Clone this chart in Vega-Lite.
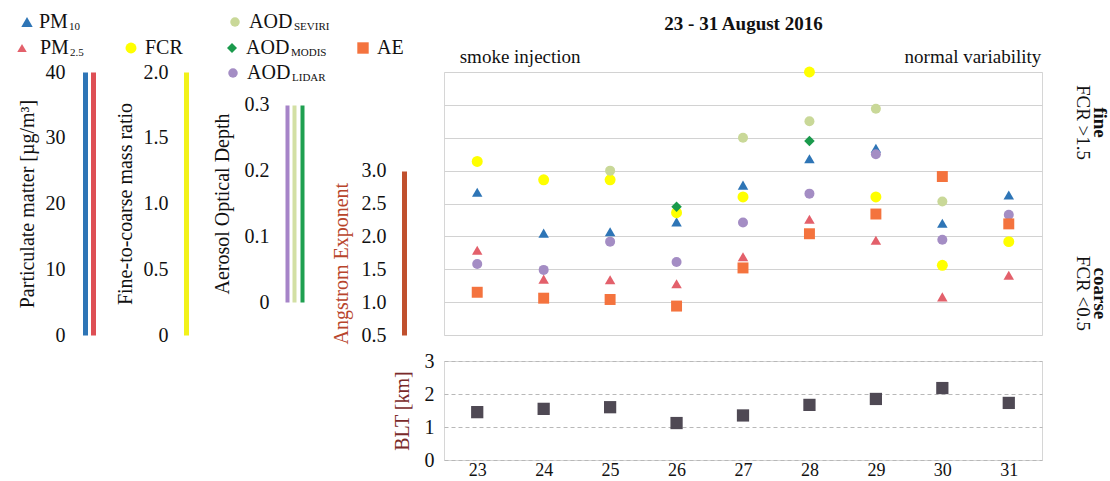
{
  "$schema": "https://vega.github.io/schema/vega-lite/v6.json",
  "padding": {"left": 11, "top": 11, "right": 0, "bottom": 0},
  "config": {
    "font": "Liberation Serif",
    "view": {"stroke": "#d6d6d6"},
    "axis": {"labelFontSize": 20, "titleFontSize": 20, "titleFontWeight": "normal", "labelColor": "#111111", "titleColor": "#111111"},
    "legend": {"labelFontSize": 20, "labelColor": "#111111", "titleFontSize": 11, "titleFontWeight": "normal", "titleColor": "#111111"}
  },
  "datasets": {
    "obs": [
      {"day": 23, "series": "PM10", "value": 21.7},
      {"day": 24, "series": "PM10", "value": 15.5},
      {"day": 25, "series": "PM10", "value": 15.7},
      {"day": 26, "series": "PM10", "value": 17.2},
      {"day": 27, "series": "PM10", "value": 22.8},
      {"day": 28, "series": "PM10", "value": 26.8},
      {"day": 29, "series": "PM10", "value": 28.4},
      {"day": 30, "series": "PM10", "value": 17.0},
      {"day": 31, "series": "PM10", "value": 21.3},
      {"day": 23, "series": "PM2.5", "value": 12.9},
      {"day": 24, "series": "PM2.5", "value": 8.5},
      {"day": 25, "series": "PM2.5", "value": 8.4},
      {"day": 26, "series": "PM2.5", "value": 7.8},
      {"day": 27, "series": "PM2.5", "value": 11.9},
      {"day": 28, "series": "PM2.5", "value": 17.6},
      {"day": 29, "series": "PM2.5", "value": 14.4},
      {"day": 30, "series": "PM2.5", "value": 5.8},
      {"day": 31, "series": "PM2.5", "value": 9.1},
      {"day": 23, "series": "FCR", "value": 1.32},
      {"day": 24, "series": "FCR", "value": 1.18},
      {"day": 25, "series": "FCR", "value": 1.18},
      {"day": 26, "series": "FCR", "value": 0.93},
      {"day": 27, "series": "FCR", "value": 1.05},
      {"day": 28, "series": "FCR", "value": 2.0},
      {"day": 29, "series": "FCR", "value": 1.05},
      {"day": 30, "series": "FCR", "value": 0.53},
      {"day": 31, "series": "FCR", "value": 0.71},
      {"day": 25, "series": "AOD_SEVIRI", "value": 0.2},
      {"day": 27, "series": "AOD_SEVIRI", "value": 0.25},
      {"day": 28, "series": "AOD_SEVIRI", "value": 0.275},
      {"day": 29, "series": "AOD_SEVIRI", "value": 0.294},
      {"day": 30, "series": "AOD_SEVIRI", "value": 0.153},
      {"day": 26, "series": "AOD_MODIS", "value": 0.145},
      {"day": 28, "series": "AOD_MODIS", "value": 0.245},
      {"day": 23, "series": "AOD_LIDAR", "value": 0.058},
      {"day": 24, "series": "AOD_LIDAR", "value": 0.049},
      {"day": 25, "series": "AOD_LIDAR", "value": 0.092},
      {"day": 26, "series": "AOD_LIDAR", "value": 0.061},
      {"day": 27, "series": "AOD_LIDAR", "value": 0.121},
      {"day": 28, "series": "AOD_LIDAR", "value": 0.165},
      {"day": 29, "series": "AOD_LIDAR", "value": 0.225},
      {"day": 30, "series": "AOD_LIDAR", "value": 0.095},
      {"day": 31, "series": "AOD_LIDAR", "value": 0.133},
      {"day": 23, "series": "AE", "value": 1.15},
      {"day": 24, "series": "AE", "value": 1.06},
      {"day": 25, "series": "AE", "value": 1.04},
      {"day": 26, "series": "AE", "value": 0.94},
      {"day": 27, "series": "AE", "value": 1.52},
      {"day": 28, "series": "AE", "value": 2.04},
      {"day": 29, "series": "AE", "value": 2.34},
      {"day": 30, "series": "AE", "value": 2.91},
      {"day": 31, "series": "AE", "value": 2.19},
      {"day": 23, "series": "BLT", "value": 1.45},
      {"day": 24, "series": "BLT", "value": 1.55},
      {"day": 25, "series": "BLT", "value": 1.6},
      {"day": 26, "series": "BLT", "value": 1.12},
      {"day": 27, "series": "BLT", "value": 1.35},
      {"day": 28, "series": "BLT", "value": 1.67},
      {"day": 29, "series": "BLT", "value": 1.85},
      {"day": 30, "series": "BLT", "value": 2.18},
      {"day": 31, "series": "BLT", "value": 1.73}
    ]
  },
  "spacing": 4,
  "vconcat": [
    {
      "width": 598,
      "height": 263,
      "data": {"name": "obs"},
      "encoding": {
        "x": {
          "field": "day", "type": "ordinal",
          "axis": {
            "orient": "top", "title": "23 - 31 August 2016", "titleFontWeight": "bold", "titleFontSize": 19, "titlePadding": 14,
            "ticks": false, "domain": false,
            "labelExpr": "datum.value == 23 ? 'smoke injection' : datum.value == 31 ? 'normal variability' : ''",
            "labelAngle": 0, "labelOverlap": false, "labelBound": false, "labelPadding": 6, "labelFontSize": 19,
            "labelAlign": {"condition": {"test": "datum.value == 23", "value": "left"}, "value": "right"},
            "labelOffset": {"condition": {"test": "datum.value == 23", "value": -18}, "value": 32}
          }
        }
      },
      "layer": [
        {
          "transform": [{"filter": "datum.series == 'PM2.5'"}],
          "mark": {"type": "point", "shape": "triangle-up", "filled": true, "size": 110, "opacity": 1},
          "encoding": {
            "y": {"field": "value", "type": "quantitative", "scale": {"domain": [0, 40]},
              "axis": {"orient": "left", "offset": 351, "values": [0, 5, 10, 15, 20, 25, 30, 35, 40], "labels": false, "ticks": false, "title": null, "grid": true, "gridColor": "#d2d2d2", "domainColor": "#de4f55", "domainWidth": 5}},
            "color": {"datum": "PM", "scale": {"range": ["#e3606b"]},
              "legend": {"orient": "none", "legendX": -432, "legendY": -34, "symbolType": "triangle-up", "symbolSize": 90, "labelOffset": 8, "title": "2.5", "titleOrient": "right", "titleAnchor": "end", "titleBaseline": "bottom", "titlePadding": 1}}
          }
        },
        {
          "transform": [{"filter": "datum.series == 'PM10'"}],
          "mark": {"type": "point", "shape": "triangle-up", "filled": true, "size": 110, "opacity": 1},
          "encoding": {
            "y": {"field": "value", "type": "quantitative", "scale": {"domain": [0, 40]},
              "axis": {"orient": "left", "offset": 359, "values": [0, 10, 20, 30, 40], "ticks": false, "labelPadding": 20, "title": "Particulate matter [µg/m³]", "titlePadding": 8, "grid": false, "domainColor": "#2e75b6", "domainWidth": 5}},
            "color": {"datum": "PM", "scale": {"range": ["#2e75b6"]},
              "legend": {"orient": "none", "legendX": -427, "legendY": -60, "symbolType": "triangle-up", "symbolSize": 130, "labelOffset": 2, "title": "10", "titleOrient": "right", "titleAnchor": "end", "titleBaseline": "bottom", "titlePadding": 1}}
          }
        },
        {
          "transform": [{"filter": "datum.series == 'FCR'"}],
          "mark": {"type": "point", "shape": "circle", "filled": true, "size": 120, "opacity": 1},
          "encoding": {
            "y": {"field": "value", "type": "quantitative", "scale": {"domain": [0, 2]},
              "axis": {"orient": "left", "offset": 258, "values": [0, 0.5, 1, 1.5, 2], "labelExpr": "datum.value == 0 ? '0' : format(datum.value, '.1f')", "ticks": false, "labelPadding": 18, "title": "Fine-to-coarse mass ratio", "titlePadding": 8, "grid": false, "domainColor": "#f2f21a", "domainWidth": 5}},
            "color": {"datum": "FCR", "scale": {"range": ["#ffff00"]},
              "legend": {"orient": "none", "legendX": -323, "legendY": -34, "symbolType": "circle", "symbolSize": 120, "title": null}}
          }
        },
        {
          "transform": [{"filter": "datum.series == 'AOD_SEVIRI'"}],
          "mark": {"type": "point", "shape": "circle", "filled": true, "size": 100, "opacity": 1},
          "encoding": {
            "y": {"field": "value", "type": "quantitative", "scale": {"domain": [-0.05, 0.35]},
              "axis": {"orient": "left", "offset": 150, "labels": false, "ticks": false, "title": null, "grid": false, "domainColor": "#d3e0a4", "domainWidth": 4, "domainDash": [0, 33, 197, 1000]}},
            "color": {"datum": "AOD", "scale": {"range": ["#c9d898"]},
              "legend": {"orient": "none", "legendX": -219, "legendY": -60, "symbolType": "circle", "symbolSize": 90, "title": "SEVIRI", "titleOrient": "right", "titleAnchor": "end", "titleBaseline": "bottom", "titlePadding": 2}}
          }
        },
        {
          "transform": [{"filter": "datum.series == 'AOD_MODIS'"}],
          "mark": {"type": "point", "shape": "diamond", "filled": true, "size": 110, "opacity": 1},
          "encoding": {
            "y": {"field": "value", "type": "quantitative", "scale": {"domain": [-0.05, 0.35]},
              "axis": {"orient": "left", "offset": 142, "labels": false, "ticks": false, "title": null, "grid": false, "domainColor": "#1fa050", "domainWidth": 4, "domainDash": [0, 33, 197, 1000]}},
            "color": {"datum": "AOD", "scale": {"range": ["#1a9a4c"]},
              "legend": {"orient": "none", "legendX": -222, "legendY": -34, "symbolType": "diamond", "symbolSize": 100, "title": "MODIS", "titleOrient": "right", "titleAnchor": "end", "titleBaseline": "bottom", "titlePadding": 2}}
          }
        },
        {
          "transform": [{"filter": "datum.series == 'AOD_LIDAR'"}],
          "mark": {"type": "point", "shape": "circle", "filled": true, "size": 100, "opacity": 1},
          "encoding": {
            "y": {"field": "value", "type": "quantitative", "scale": {"domain": [-0.05, 0.35]},
              "axis": {"orient": "left", "offset": 157, "values": [0, 0.1, 0.2, 0.3], "labelExpr": "datum.value == 0 ? '0' : format(datum.value, '.1f')", "ticks": false, "labelPadding": 18, "title": "Aerosol Optical Depth", "titlePadding": 12, "grid": false, "domainColor": "#a684c8", "domainWidth": 4, "domainDash": [0, 33, 197, 1000]}},
            "color": {"datum": "AOD", "scale": {"range": ["#a48dc4"]},
              "legend": {"orient": "none", "legendX": -221, "legendY": -9, "symbolType": "circle", "symbolSize": 90, "title": "LIDAR", "titleOrient": "right", "titleAnchor": "end", "titleBaseline": "bottom", "titlePadding": 2}}
          }
        },
        {
          "transform": [{"filter": "datum.series == 'AE'"}],
          "mark": {"type": "point", "shape": "square", "filled": true, "size": 120, "opacity": 1},
          "encoding": {
            "y": {"field": "value", "type": "quantitative", "scale": {"domain": [0.5, 4.5]},
              "axis": {"orient": "left", "offset": 40, "values": [0.5, 1, 1.5, 2, 2.5, 3], "format": ".1f", "ticks": false, "labelPadding": 18, "title": "Angstrom Exponent", "titleColor": "#b8452c", "titleAnchor": "start", "titleAlign": "left", "titleAngle": -90, "titleY": 272, "titlePadding": 10, "grid": false, "domainColor": "#c0502e", "domainWidth": 5, "domainDash": [164, 1000]}},
            "color": {"datum": "AE", "scale": {"range": ["#f4733e"]},
              "legend": {"orient": "none", "legendX": -91, "legendY": -34, "symbolType": "square", "symbolSize": 130, "title": null}}
          }
        },
        {
          "transform": [{"filter": "datum.series == 'FCR'"}],
          "mark": {"type": "point", "opacity": 0},
          "encoding": {
            "y": {"field": "value", "type": "quantitative", "scale": {"domain": [0, 2]},
              "axis": {"orient": "right", "values": [0.32, 1.62], "labelExpr": "datum.value > 1 ? 'FCR >1.5' : 'FCR <0.5'", "labelAngle": 90, "labelAlign": "center", "labelBaseline": "bottom", "labelPadding": 30, "labelFontSize": 19, "ticks": false, "domain": false, "grid": false, "title": null}}
          }
        },
        {
          "transform": [{"filter": "datum.series == 'FCR'"}],
          "mark": {"type": "point", "opacity": 0},
          "encoding": {
            "y": {"field": "value", "type": "quantitative", "scale": {"domain": [0, 2]},
              "axis": {"orient": "right", "values": [0.32, 1.62], "labelExpr": "datum.value > 1 ? 'fine' : 'coarse'", "labelAngle": 90, "labelAlign": "center", "labelBaseline": "bottom", "labelPadding": 47, "labelFontSize": 19, "labelFontWeight": "bold", "ticks": false, "domain": false, "grid": false, "title": null}}
          }
        }
      ],
      "resolve": {"scale": {"y": "independent", "color": "independent"}, "axis": {"y": "independent"}}
    },
    {
      "width": 598,
      "height": 99,
      "data": {"name": "obs"},
      "transform": [{"filter": "datum.series == 'BLT'"}],
      "mark": {"type": "point", "shape": "square", "filled": true, "size": 150, "opacity": 1, "color": "#4f4954"},
      "encoding": {
        "x": {"field": "day", "type": "ordinal", "axis": {"title": null, "labelAngle": 0, "ticks": false, "domain": false, "labelPadding": 1, "labelFontSize": 18}},
        "y": {"field": "value", "type": "quantitative", "scale": {"domain": [0, 3]},
          "axis": {"values": [0, 1, 2, 3], "title": "BLT [km]", "titleColor": "#7a2a2a", "titlePadding": 12, "grid": true, "gridDash": [4, 3], "gridColor": "#b8b8b8", "ticks": false, "domain": false, "labelPadding": 10}}
      }
    }
  ]
}
